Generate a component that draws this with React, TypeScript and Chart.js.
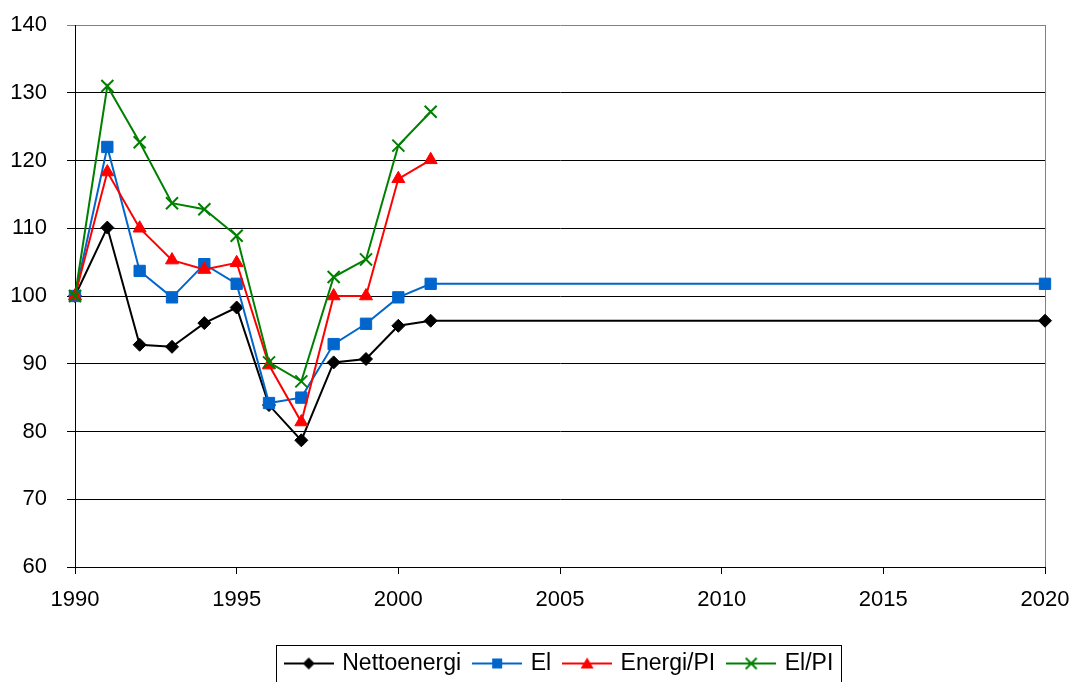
import React, { useEffect, useRef } from "react";
import { Chart, registerables } from "chart.js";

Chart.register(...registerables);

// ---- data ----
const years = [1990, 1991, 1992, 1993, 1994, 1995, 1996, 1997, 1998, 1999, 2000, 2001, 2020];
const nettoenergi = [100, 110.1, 92.8, 92.5, 96.0, 98.3, 83.9, 78.7, 90.2, 90.7, 95.6, 96.35, 96.35];
const el = [100, 122.0, 103.7, 99.8, 104.7, 101.8, 84.2, 85.0, 92.9, 95.9, 99.8, 101.8, 101.8];
const energiPI = [100, 118.3, 110.0, 105.3, 103.9, 104.9, 89.8, 81.4, 100.0, 100.0, 117.3, 120.1];
const elPI = [100, 131.0, 122.7, 113.7, 112.8, 108.9, 90.2, 87.4, 102.8, 105.4, 122.2, 127.2];
const seriesNames = ["Nettoenergi", "El", "Energi/PI", "El/PI"];
const seriesColors = ["#000000", "#0066CC", "#FF0000", "#008000"];
const yTicks = { min: 60, max: 140, step: 10 };
const xTicks = { min: 1990, max: 2020, step: 5 };

const FONT = "'Liberation Sans', Arial, sans-serif";

function toPoints(values: number[]) {
  return values.map((v, i) => ({ x: years[i], y: v }));
}

function makeLegendImage(color: string, shape: string): HTMLCanvasElement {
  const c = document.createElement("canvas");
  c.width = 50;
  c.height = 22;
  const g = c.getContext("2d")!;
  const cx = 25;
  const cy = 11;
  g.strokeStyle = color;
  g.fillStyle = color;
  g.lineWidth = 2;
  g.beginPath();
  g.moveTo(0, cy);
  g.lineTo(50, cy);
  g.stroke();
  g.beginPath();
  if (shape === "diamond") {
    g.moveTo(cx, cy - 6);
    g.lineTo(cx + 6, cy);
    g.lineTo(cx, cy + 6);
    g.lineTo(cx - 6, cy);
    g.closePath();
    g.fill();
  } else if (shape === "square") {
    g.rect(cx - 5, cy - 5, 10, 10);
    g.fill();
  } else if (shape === "triangle") {
    g.moveTo(cx, cy - 6);
    g.lineTo(cx + 6.5, cy + 5);
    g.lineTo(cx - 6.5, cy + 5);
    g.closePath();
    g.fill();
  } else {
    g.moveTo(cx - 5.5, cy - 5.5);
    g.lineTo(cx + 5.5, cy + 5.5);
    g.moveTo(cx + 5.5, cy - 5.5);
    g.lineTo(cx - 5.5, cy + 5.5);
    g.stroke();
  }
  return c;
}

const legendBorder = {
  id: "legendBorder",
  afterDraw(chart: any) {
    const lg = chart.legend;
    if (!lg || !lg.legendHitBoxes || !lg.legendHitBoxes.length) return;
    const hb = lg.legendHitBoxes;
    const first = hb[0];
    const last = hb[hb.length - 1];
    const left = Math.round(first.left - 11);
    const right = Math.round(last.left + last.width + 8);
    const top = Math.round(first.top - 7);
    const ctx = chart.ctx;
    ctx.save();
    ctx.strokeStyle = "#000";
    ctx.lineWidth = 1;
    ctx.strokeRect(left + 0.5, top + 0.5, right - left, 100);
    ctx.restore();
  },
};

export default function App() {
  const ref = useRef<HTMLCanvasElement | null>(null);

  useEffect(() => {
    if (!ref.current) return;
    const shapes = ["diamond", "square", "triangle", "cross"];
    const legendImages = seriesColors.map((c, i) => makeLegendImage(c, shapes[i]));

    const chart = new Chart(ref.current, {
      type: "line",
      data: {
        datasets: [
          {
            label: seriesNames[0],
            data: toPoints(nettoenergi),
            borderColor: seriesColors[0],
            backgroundColor: seriesColors[0],
            borderWidth: 2,
            pointStyle: "rectRot",
            pointRadius: 6.5,
            pointBorderWidth: 1,
            clip: false,
            order: 3,
          },
          {
            label: seriesNames[1],
            data: toPoints(el),
            borderColor: seriesColors[1],
            backgroundColor: seriesColors[1],
            borderWidth: 2,
            pointStyle: "rect",
            pointRadius: 8,
            pointBorderWidth: 1,
            clip: false,
            order: 2,
          },
          {
            label: seriesNames[2],
            data: toPoints(energiPI),
            borderColor: seriesColors[2],
            backgroundColor: seriesColors[2],
            borderWidth: 2,
            pointStyle: "triangle",
            pointRadius: 7.5,
            pointBorderWidth: 1,
            clip: false,
            order: 1,
          },
          {
            label: seriesNames[3],
            data: toPoints(elPI),
            borderColor: seriesColors[3],
            backgroundColor: seriesColors[3],
            borderWidth: 2,
            pointStyle: "crossRot",
            pointRadius: 8.5,
            pointBorderWidth: 2,
            clip: false,
            order: 0,
          },
        ],
      },
      options: {
        animation: false,
        responsive: true,
        maintainAspectRatio: false,
        layout: { padding: { left: 0, right: 27, top: 25, bottom: -3 } },
        font: { family: FONT, size: 22 },
        color: "#000",
        scales: {
          x: {
            type: "linear",
            min: xTicks.min,
            max: xTicks.max,
            afterFit: (s: any) => {
              s.height = 71;
              s.paddingLeft = 0;
              s.paddingRight = 0;
            },
            ticks: {
              stepSize: xTicks.step,
              color: "#000",
              font: { family: FONT, size: 22 },
              padding: 13,
              maxRotation: 0,
              callback: (v: any) => String(v),
            },
            grid: {
              drawOnChartArea: true,
              color: (c: any) => (c.tick && c.tick.value === 2020 ? "#808080" : "rgba(0,0,0,0)"),
              tickColor: "#000",
              tickLength: 7,
              lineWidth: 1,
            },
            border: { display: true, color: "#000", width: 1 },
          },
          y: {
            type: "linear",
            min: yTicks.min,
            max: yTicks.max,
            afterFit: (s: any) => {
              s.width = 75;
              s.paddingTop = 0;
              s.paddingBottom = 0;
            },
            ticks: {
              stepSize: yTicks.step,
              color: "#000",
              font: { family: FONT, size: 22 },
              padding: 20,
            },
            grid: {
              color: (c: any) => (c.tick && c.tick.value === 140 ? "#808080" : "#000"),
              tickColor: (c: any) => (c.tick && c.tick.value === 140 ? "#808080" : "#000"),
              tickLength: 8,
              lineWidth: 1,
            },
            border: { display: true, color: "#000", width: 1 },
          },
        },
        plugins: {
          tooltip: { enabled: false },
          legend: {
            display: true,
            position: "bottom",
            fullSize: false,
            labels: {
              usePointStyle: true,
              pointStyleWidth: 44,
              boxHeight: 22,
              padding: 14,
              color: "#000",
              font: { family: FONT, size: 23 },
              generateLabels: (ch: any) =>
                ch.data.datasets.map((ds: any, i: number) => ({
                  text: ds.label,
                  pointStyle: legendImages[i],
                  fillStyle: "rgba(0,0,0,0)",
                  strokeStyle: "rgba(0,0,0,0)",
                  lineWidth: 0,
                  hidden: false,
                  datasetIndex: i,
                  fontColor: "#000",
                })),
            },
          },
        },
      },
      plugins: [legendBorder],
    } as any);

    return () => chart.destroy();
  }, []);

  return (
    <div style={{ position: "fixed", left: 0, top: 0, width: 1072, height: 682, background: "#fff" }}>
      <canvas ref={ref} />
    </div>
  );
}
